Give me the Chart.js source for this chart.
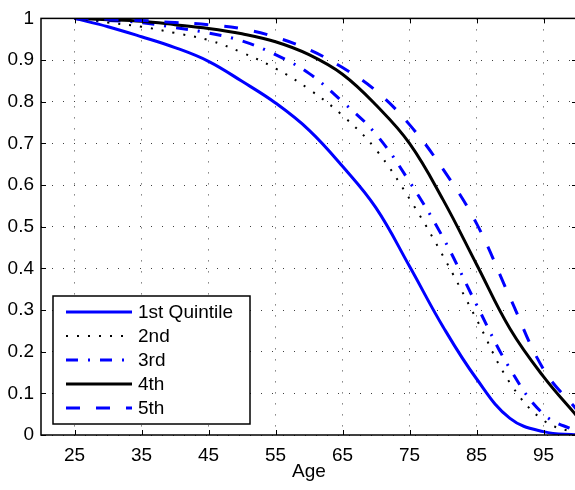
<!DOCTYPE html>
<html>
<head>
<meta charset="utf-8">
<script src="https://cdn.jsdelivr.net/npm/chart.js@4/dist/chart.umd.min.js"></script>
<style>
  html, body { margin: 0; padding: 0; width: 575px; height: 490px; overflow: hidden; background: #fff; }
  canvas { display: block; }
</style>
</head>
<body>
<canvas id="chart" width="578" height="490"></canvas>
<script>
// ages at which the survival curves were read
const ages = [25, 30, 35, 40, 45, 50, 55, 60, 65, 70, 75, 80, 85, 90, 95, 100];

const q1 = [1.0, 0.98, 0.956, 0.93, 0.897, 0.849, 0.797, 0.732, 0.645, 0.545, 0.405, 0.26, 0.135, 0.04, 0.008, 0.0];
const q2 = [1.0, 0.99, 0.98, 0.965, 0.948, 0.918, 0.88, 0.83, 0.767, 0.685, 0.567, 0.43, 0.278, 0.125, 0.035, 0.003];
const q3 = [1.0, 0.995, 0.99, 0.978, 0.965, 0.946, 0.913, 0.868, 0.80, 0.722, 0.608, 0.474, 0.313, 0.159, 0.05, 0.008];
const q4 = [1.0, 0.997, 0.993, 0.985, 0.976, 0.963, 0.944, 0.913, 0.866, 0.792, 0.70, 0.565, 0.41, 0.255, 0.14, 0.045];
const q5 = [1.0, 0.998, 0.995, 0.99, 0.985, 0.975, 0.955, 0.925, 0.882, 0.826, 0.745, 0.638, 0.508, 0.33, 0.158, 0.06];

const seriesNames = ["1st Quintile", "2nd", "3rd", "4th", "5th"];
const xTicks = [25, 35, 45, 55, 65, 75, 85, 95];
const yTicks = [0, 0.1, 0.2, 0.3, 0.4, 0.5, 0.6, 0.7, 0.8, 0.9, 1];

const FONT = "'Liberation Sans', Arial, Helvetica, sans-serif";
const FSIZE = 19;

function pts(vals) {
  return ages.map((a, i) => ({x: a, y: vals[i]}));
}

const styles = [
  {color: "#0000ff", width: 3, dash: []},
  {color: "#000000", width: 2, dash: [2, 9]},
  {color: "#0000ff", width: 3, dash: [12, 10, 2, 10]},
  {color: "#000000", width: 3, dash: []},
  {color: "#0000ff", width: 3, dash: [14, 16]}
];

const allSeries = [q1, q2, q3, q4, q5];

const datasets = allSeries.map((vals, i) => ({
  label: seriesNames[i],
  data: pts(vals),
  borderColor: styles[i].color,
  borderWidth: styles[i].width,
  borderDash: styles[i].dash,
  borderCapStyle: "butt",
  pointRadius: 0,
  fill: false,
  tension: 0.4,
  order: 4 - i
}));

// box, inward ticks and legend drawn on top like the matlab figure
const framePlugin = {
  id: "frame",
  afterDatasetsDraw(chart) {
    const ctx = chart.ctx;
    const a = chart.chartArea;
    const xs = chart.scales.x, ys = chart.scales.y;
    ctx.save();
    ctx.strokeStyle = "#000";
    ctx.lineWidth = 1;
    ctx.setLineDash([]);
    ctx.beginPath();
    xTicks.forEach(v => {
      const px = Math.round(xs.getPixelForValue(v)) + 0.5;
      ctx.moveTo(px, a.bottom); ctx.lineTo(px, a.bottom - 5);
      ctx.moveTo(px, a.top); ctx.lineTo(px, a.top + 5);
    });
    yTicks.forEach(v => {
      const py = Math.round(ys.getPixelForValue(v)) + 0.5;
      ctx.moveTo(a.left, py); ctx.lineTo(a.left + 5, py);
      ctx.moveTo(a.right, py); ctx.lineTo(a.right - 5, py);
    });
    ctx.stroke();
    ctx.lineWidth = 1.5;
    ctx.strokeRect(a.left, a.top, a.right - a.left, a.bottom - a.top);

    // legend
    const lx = 53, ly = 296, lw = 197, lh = 128;
    ctx.fillStyle = "#fff";
    ctx.fillRect(lx, ly, lw, lh);
    ctx.lineWidth = 1.5;
    ctx.strokeStyle = "#000";
    ctx.strokeRect(lx, ly, lw, lh);
    ctx.font = FSIZE + "px " + FONT;
    ctx.textBaseline = "middle";
    ctx.textAlign = "left";
    chart.data.datasets.forEach((ds, i) => {
      const y = ly + 16 + i * 24;
      ctx.strokeStyle = ds.borderColor;
      ctx.lineWidth = ds.borderWidth;
      ctx.lineCap = "butt";
      ctx.setLineDash(ds.borderDash);
      ctx.beginPath();
      ctx.moveTo(66, y); ctx.lineTo(132, y);
      ctx.stroke();
      ctx.setLineDash([]);
      ctx.fillStyle = "#000";
      ctx.fillText(ds.label, 138, y + 1);
    });
    ctx.restore();
  }
};

new Chart(document.getElementById("chart"), {
  type: "line",
  data: {datasets: datasets},
  options: {
    responsive: false,
    animation: false,
    layout: {padding: {top: 13, right: 1, left: 0, bottom: 0}},
    plugins: {legend: {display: false}, tooltip: {enabled: false}},
    scales: {
      x: {
        type: "linear",
        min: 20,
        max: 100,
        afterBuildTicks: s => { s.ticks = xTicks.map(v => ({value: v})); },
        afterFit: s => { s.height = 55; },
        grid: {color: "rgba(0,0,0,0.75)", lineWidth: 1, drawTicks: false},
        border: {display: false, dash: [1, 10]},
        ticks: {color: "#000", font: {family: FONT, size: FSIZE}, padding: 9, maxRotation: 0},
        title: {display: true, text: "Age", color: "#000", font: {family: FONT, size: FSIZE}, padding: {top: 0, bottom: 7}}
      },
      y: {
        min: 0,
        max: 1,
        afterBuildTicks: s => { s.ticks = yTicks.map(v => ({value: v})); },
        afterFit: s => { s.width = 41; },
        grid: {color: "rgba(0,0,0,0.75)", lineWidth: 1, drawTicks: false},
        border: {display: false, dash: [1, 10]},
        ticks: {color: "#000", font: {family: FONT, size: FSIZE}, padding: 7,
          callback: v => String(+v.toFixed(1))}
      }
    }
  },
  plugins: [framePlugin]
});
</script>
</body>
</html>
